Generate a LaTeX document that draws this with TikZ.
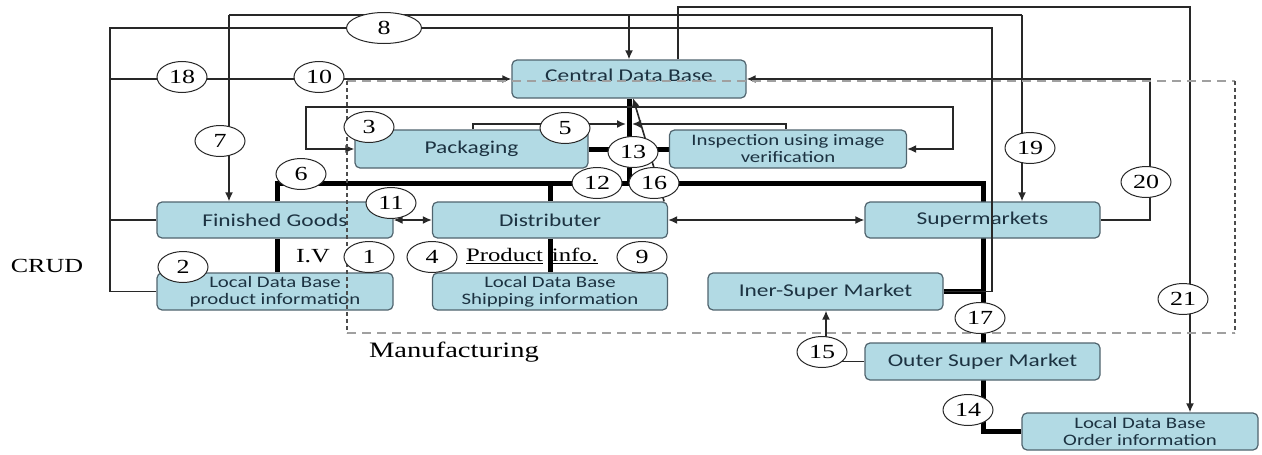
\documentclass[tikz,border=0pt]{standalone}
\usepackage{fontspec}
\setmainfont{Liberation Serif}[FakeStretch=1.3]
\newfontfamily\lblfont{Carlito}[FakeStretch=1.3]
\usetikzlibrary{arrows.meta,shapes.geometric}
\pgfdeclarelayer{bg}
\pgfdeclarelayer{fg}
\pgfsetlayers{bg,main,fg}
\definecolor{boxfill}{RGB}{178,218,228}
\definecolor{boxline}{RGB}{80,100,110}
\definecolor{boxtext}{RGB}{28,50,65}
\definecolor{wire}{RGB}{40,40,40}
\definecolor{bound}{RGB}{160,160,160}
\tikzset{
 dbox/.style={draw=boxline, fill=boxfill, rounded corners=5pt, line width=1.2pt, inner sep=0pt, text=boxtext, font=\lblfont\fontsize{18}{18}\selectfont, align=center},
 dbox2/.style={dbox, font=\lblfont\fontsize{16}{17}\selectfont},
 num/.style={ellipse, draw=wire, fill=white, line width=1pt, minimum width=50pt, minimum height=31pt, inner sep=0pt, font=\fontsize{20}{20}\selectfont},
 wireln/.style={draw=wire, line width=1.6pt},
 thickln/.style={draw=black, line width=5pt, line join=miter},
 tip/.style={-{Latex[length=9pt,width=8pt]}},
 dtip/.style={{Latex[length=9pt,width=8pt]}-{Latex[length=9pt,width=8pt]}},
 boundh/.style={draw=bound, line width=2.6pt, dash pattern=on 9pt off 6pt},
 boundv/.style={draw=black!70, line width=1.3pt, dash pattern=on 4pt off 3pt},
}
\begin{document}
\begin{tikzpicture}[x=1pt,y=-1pt]
\useasboundingbox (0,0) rectangle (1262,455);
% boxes
\node[dbox, minimum width=234, minimum height=38] (cdb) at (629,79) {\raisebox{7pt}{Central Data Base}};
\node[dbox, minimum width=233, minimum height=38] (pack) at (471.5,149) {Packaging};
\node[dbox2, minimum width=237, minimum height=38] (insp) at (788,149) {Inspection using image\\verification};
\node[dbox, minimum width=236, minimum height=36] (fg) at (275,220) {Finished Goods};
\node[dbox, minimum width=235, minimum height=36] (dist) at (550,220) {Distributer};
\node[dbox, minimum width=235, minimum height=36] (sup) at (982.5,220) {Supermarkets};
\node[dbox2, minimum width=236, minimum height=37] (ldbp) at (275,291.5) {Local Data Base\\product information};
\node[dbox2, minimum width=235, minimum height=37] (ldbs) at (550,291.5) {Local Data Base\\Shipping information};
\node[dbox, minimum width=235, minimum height=37] (iner) at (825.5,291.5) {Iner-Super Market};
\node[dbox, minimum width=235, minimum height=37] (outer) at (982.5,361.5) {Outer Super Market};
\node[dbox2, minimum width=236, minimum height=37] (ldbo) at (1140,431.5) {Local Data Base\\Order information};
% texts
\node[font=\fontsize{20}{20}\selectfont] (crud) at (47,266) {CRUD};
\node[font=\fontsize{22}{22}\selectfont] (manu) at (454,352) {Manufacturing};
\node[font=\fontsize{20}{20}\selectfont] (iv) at (313,256) {I.V};
\node[font=\fontsize{19}{19}\selectfont] (pinfo) at (532,256) {\underline{Product}\hspace{9pt}\underline{info.}};
\begin{pgfonlayer}{bg}
% thick network
\draw[thickln] (cdb.south) -- (629,183);
\draw[thickln] (pack.east) -- (insp.west);
\draw[thickln] (fg.north -| 277,0) -- (277,183) -- (983,183) -- (983,431.5) -- (ldbo.west);
\draw[thickln] (dist.north) -- (550,183);
\draw[thickln] (dist.south) -- (ldbs.north);
\draw[thickln] (fg.south -| 277,0) -- (ldbp.north -| 277,0);
\draw[thickln] (iner.east) -- (983,291.5);
% thin connectors
\draw[wireln] (fg.west) -- (110,220);
\draw[wireln, tip] (110,79) -- (cdb.west);
\draw[wireln, tip] (229,15) -- (fg.north -| 229,0);
\draw[wireln] (229,15) -- (1022,15);
\draw[wireln, tip] (1022,15) -- (sup.north -| 1022,0);
\draw[wireln, tip] (cdb.north |- 0,15) -- (cdb.north);
\draw[wireln, tip] (cdb.north -| 678,0) -- (678,7) -- (1190,7) -- (ldbo.north -| 1190,0);
\draw[wireln, tip] (sup.east) -- (1150,220) -- (1150,79) -- (cdb.east);
\draw[wireln, dtip] (pack.west) -- (306,149) -- (306,107) -- (953,107) -- (953,149) -- (insp.east);
\draw[wireln, tip] (pack.north -| 473,0) -- (473,124) -- (626,124);
\draw[wireln, tip] (insp.north -| 786,0) -- (786,124) -- (632,124);
\draw[wireln, tip] ([xshift=-4pt]dist.north east) -- (633,98);
\draw[wireln, dtip] (fg.east) -- (dist.west);
\draw[wireln, dtip] (dist.east) -- (sup.west);
\draw[wireln] (outer.west) -- (822,361.5);
\draw[wireln, tip] (826,337) -- (iner.south -| 826,0);
\end{pgfonlayer}
\begin{pgfonlayer}{fg}
% manufacturing boundary
\draw[boundh] (347,81) -- (1235,81);
\draw[boundh] (347,333) -- (1235,333);
\draw[boundv] (347,81) -- (347,333);
\draw[boundv] (1235,81) -- (1235,333);
% line 8
\draw[wireln] (ldbp.west) -- (110,291.5) -- (110,28) -- (992,28) -- (992,291.5) -- (iner.east);
% number ellipses
\node[num, minimum width=75] (n8) at (384,28) {8};
\node[num] (n18) at (182,77) {18};
\node[num] (n10) at (319,77) {10};
\node[num] (n7) at (220,141) {7};
\node[num] (n3) at (369,127) {3};
\node[num] (n5) at (565,128) {5};
\node[num] (n13) at (633,152) {13};
\node[num] (n12) at (597,183) {12};
\node[num] (n16) at (654,183) {16};
\node[num] (n6) at (301,174) {6};
\node[num] (n11) at (391,203) {11};
\node[num] (n19) at (1030,148) {19};
\node[num] (n20) at (1146,182) {20};
\node[num] (n1) at (369,257) {1};
\node[num] (n4) at (432,257) {4};
\node[num] (n9) at (642,257) {9};
\node[num] (n2) at (183,267) {2};
\node[num] (n17) at (980,318) {17};
\node[num] (n15) at (822,352) {15};
\node[num] (n14) at (968,410) {14};
\node[num] (n21) at (1183,299) {21};
\end{pgfonlayer}
\end{tikzpicture}
\end{document}
